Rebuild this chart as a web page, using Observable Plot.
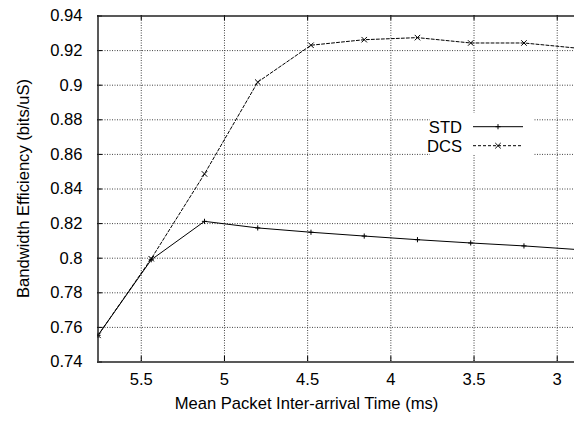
<!DOCTYPE html>
<html><head><meta charset="utf-8">
<script src="https://cdn.jsdelivr.net/npm/d3@7"></script>
<script src="https://cdn.jsdelivr.net/npm/@observablehq/plot@0.6"></script>
<style>
html,body{margin:0;padding:0;background:#fff;overflow:hidden;}
#chart svg{display:block;}
</style></head><body><div id="chart"></div>
<script>
// Data
const xValues   = [5.76, 5.44, 5.12, 4.80, 4.48, 4.16, 3.84, 3.52, 3.20, 2.88];
const stdValues = [0.7554, 0.7991, 0.8213, 0.8175, 0.8150, 0.8128, 0.8107, 0.8088, 0.8071, 0.8050];
const dcsValues = [0.7554, 0.7997, 0.8487, 0.9018, 0.9231, 0.9263, 0.9275, 0.9244, 0.9244, 0.9214];
const seriesNames = ["STD", "DCS"];
const xTicks = [5.5, 5, 4.5, 4, 3.5, 3];
const yTicks = [0.74, 0.76, 0.78, 0.8, 0.82, 0.84, 0.86, 0.88, 0.9, 0.92, 0.94];
const xDomain = [5.76, 2.88];
const yDomain = [0.74, 0.94];
const xLabel = "Mean Packet Inter-arrival Time (ms)";
const yLabel = "Bandwidth Efficiency (bits/uS)";

const std = xValues.map((x, i) => ({series: seriesNames[0], x, y: stdValues[i]}));
const dcs = xValues.map((x, i) => ({series: seriesNames[1], x, y: dcsValues[i]}));

const W = 574, H = 422, mL = 97, mT = 15, mB = 61;
const plotH = H - mT - mB, plotW = W - mL;
const gridStyle = {stroke: "#444", strokeDasharray: "1,1.5", strokeWidth: 1};
const font = "'Liberation Sans', Arial, Helvetica, sans-serif";
const fs = 16.6;

const chart = Plot.plot({
  width: W, height: H,
  marginLeft: mL, marginRight: 0, marginTop: mT, marginBottom: mB,
  style: {fontFamily: font, fontSize: fs + "px", background: "#fff", color: "#000"},
  x: {domain: xDomain, range: [97.5, 576.7]},
  y: {domain: yDomain, range: [361.5, 15.5]},
  marks: [
    Plot.ruleX(xTicks, gridStyle),
    Plot.ruleY(yTicks.slice(1, -1), gridStyle),
    Plot.tickX(xTicks, {x: d => d, insetTop: plotH - 5, stroke: "#000"}),
    Plot.tickX(xTicks, {x: d => d, insetBottom: plotH - 5, stroke: "#000"}),
    Plot.tickY(yTicks, {y: d => d, insetRight: plotW - 5, stroke: "#000"}),
    Plot.axisX({ticks: xTicks, tickSize: 0, tickPadding: 12, tickFormat: d => String(d), label: null, fontSize: fs}),
    Plot.axisY({ticks: yTicks, tickSize: 0, tickPadding: 15, tickFormat: d => String(d), label: null, fontSize: fs}),
    Plot.line(std, {x: "x", y: "y", stroke: "#000", strokeWidth: 1, clip: true}),
    Plot.line(dcs, {x: "x", y: "y", stroke: "#000", strokeWidth: 1, strokeDasharray: "3,2", clip: true}),
    Plot.dot(std, {x: "x", y: "y", symbol: "plus", r: 1.8, stroke: "#000", strokeWidth: 1, clip: true}),
    Plot.dot(dcs, {x: "x", y: "y", symbol: "times", r: 2.6, stroke: "#000", strokeWidth: 1, clip: true}),
    Plot.ruleY([yDomain[1], yDomain[0]], {stroke: "#222", strokeWidth: 1.5}),
    Plot.ruleX([xDomain[0]], {stroke: "#222", strokeWidth: 1.5}),
    Plot.text([xLabel], {text: d => d, frameAnchor: "bottom-left", dx: 209, dy: 47, textAnchor: "middle", fontSize: fs}),
    Plot.text([yLabel], {text: d => d, frameAnchor: "left", rotate: -90, dx: -74, textAnchor: "middle", fontSize: fs})
  ]
});
document.getElementById("chart").appendChild(chart);

// In-plot key (gnuplot style)
const svg = d3.select(chart);
const key = svg.append("g").attr("font-family", font).attr("font-size", fs);
key.append("rect").attr("x", 430).attr("y", 113).attr("width", 103).attr("height", 42).attr("fill", "#fff");
const keyRows = [
  {name: seriesNames[0], dash: null, sym: d3.symbolPlus, size: Math.PI * 1.8 * 1.8},
  {name: seriesNames[1], dash: "3,2", sym: d3.symbolTimes, size: Math.PI * 2.6 * 2.6}
];
keyRows.forEach((r, i) => {
  const cy = 126.7 + i * 19;
  key.append("text").attr("x", 462).attr("y", cy).attr("dy", "0.35em").attr("text-anchor", "end").text(r.name);
  key.append("line").attr("x1", 473).attr("x2", 523).attr("y1", cy).attr("y2", cy)
    .attr("stroke", "#000").attr("stroke-width", 1).attr("stroke-dasharray", r.dash);
  key.append("path").attr("d", d3.symbol(r.sym, r.size)()).attr("transform", `translate(498,${cy})`)
    .attr("fill", "none").attr("stroke", "#000").attr("stroke-width", 1);
});
</script></body></html>
